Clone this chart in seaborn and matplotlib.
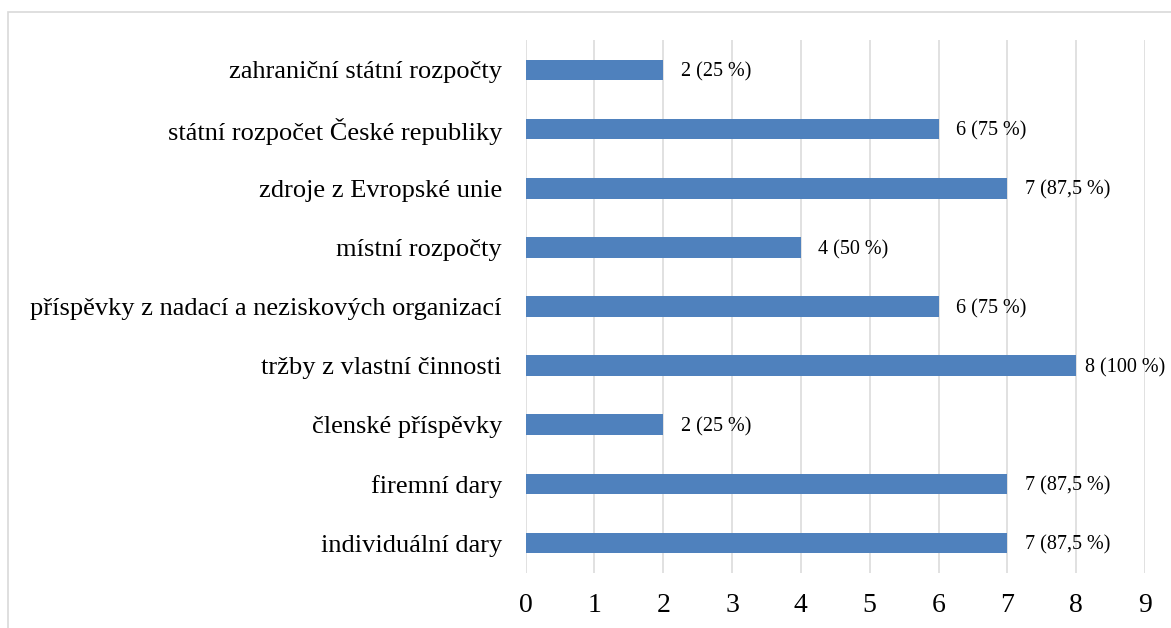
import matplotlib
matplotlib.use("Agg")
import matplotlib.pyplot as plt
import seaborn as sns
import pandas as pd
from matplotlib.patches import Rectangle

categories = [
    "zahraniční státní rozpočty",
    "státní rozpočet České republiky",
    "zdroje z Evropské unie",
    "místní rozpočty",
    "příspěvky z nadací a neziskových organizací",
    "tržby z vlastní činnosti",
    "členské příspěvky",
    "firemní dary",
    "individuální dary",
]
counts = [2, 6, 7, 4, 6, 8, 2, 7, 7]
bar_labels = ["2 (25 %)", "6 (75 %)", "7 (87,5 %)", "4 (50 %)", "6 (75 %)",
              "8 (100 %)", "2 (25 %)", "7 (87,5 %)", "7 (87,5 %)"]
xticks = [0, 1, 2, 3, 4, 5, 6, 7, 8, 9]

df = pd.DataFrame({"category": categories, "count": counts})

sns.set_theme(style="white")
plt.rcParams["font.family"] = ["Liberation Serif", "DejaVu Serif"]

fig = plt.figure(figsize=(11.71, 6.28), dpi=100)
ax = fig.add_axes([0.4488, 0.0882, 0.5290, 0.8475])

sns.barplot(data=df, x="count", y="category", order=categories, orient="h",
            color="#4F81BD", saturation=1, width=0.35, linewidth=0,
            ax=ax, zorder=3)

ax.set_xlim(0, 9)
ax.set_xticks(xticks)
ax.set_xticklabels([str(t) for t in xticks])
ax.set_xlabel("")
ax.set_ylabel("")
for s in ax.spines.values():
    s.set_visible(False)
ax.grid(axis="x", color="#D9D9D9", linewidth=1.1, zorder=0)
ax.grid(axis="y", visible=False)
ax.set_axisbelow(True)
ax.tick_params(axis="y", length=0, pad=17, labelsize=19, colors="black")
ax.tick_params(axis="x", length=0, pad=15, labelsize=20, colors="black")

vmax = max(counts)
for i, (v, lab) in enumerate(zip(counts, bar_labels)):
    dx = 6 if v == vmax else 12.5
    ax.annotate(lab, xy=(v, i), xytext=(dx, -1.5), textcoords="offset points",
                va="center", ha="left", fontsize=14.5, color="black",
                annotation_clip=False, zorder=2)

fig.patches.append(Rectangle((0.0068, -0.05), 1.1, 0.9809 + 0.05,
                             transform=fig.transFigure, fill=False,
                             edgecolor="#D9D9D9", linewidth=1.2))

fig.savefig("out.png", dpi=100)
